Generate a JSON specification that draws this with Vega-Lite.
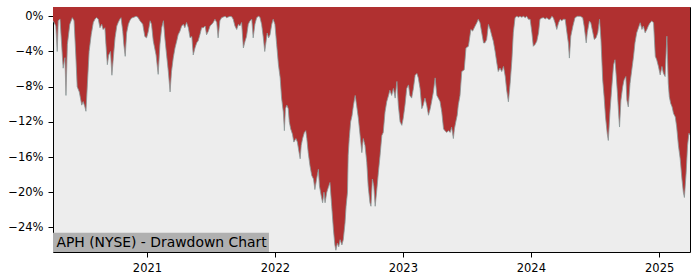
{
  "$schema": "https://vega.github.io/schema/vega-lite/v6.json",
  "width": 637,
  "height": 245,
  "autosize": {"type": "none"},
  "padding": {"left": 53, "top": 7, "right": 10, "bottom": 28},
  "background": "#ffffff",
  "config": {
    "view": {"fill": "#ededed", "stroke": "#000000", "strokeWidth": 1},
    "axis": {"grid": false, "domain": false, "tickColor": "#000000", "labelColor": "#000000", "labelFont": "DejaVu Sans", "labelFontSize": 11.5, "tickSize": 5, "labelPadding": 5, "title": null}
  },
  "datasets": {
    "dd": [
    {"date":"2020-04-08","dd":-0.5},{"date":"2020-04-11","dd":-0.7},{"date":"2020-04-16","dd":-1.1},{"date":"2020-04-20","dd":-4.0},{"date":"2020-04-23","dd":-0.5},{"date":"2020-04-28","dd":-0.3},
    {"date":"2020-05-05","dd":-4.7},{"date":"2020-05-07","dd":-5.9},{"date":"2020-05-12","dd":-4.7},{"date":"2020-05-15","dd":-9.0},{"date":"2020-05-19","dd":-3.2},{"date":"2020-05-26","dd":-0.9},
    {"date":"2020-06-02","dd":-0.15},{"date":"2020-06-07","dd":-0.5},{"date":"2020-06-12","dd":-4.4},{"date":"2020-06-16","dd":-8.0},{"date":"2020-06-22","dd":-8.6},{"date":"2020-06-29","dd":-10.1},
    {"date":"2020-07-03","dd":-9.7},{"date":"2020-07-08","dd":-10.3},{"date":"2020-07-11","dd":-10.8},{"date":"2020-07-15","dd":-7.8},{"date":"2020-07-20","dd":-4.0},{"date":"2020-07-26","dd":-2.1},
    {"date":"2020-08-01","dd":-0.7},{"date":"2020-08-06","dd":-0.3},{"date":"2020-08-10","dd":-0.15},{"date":"2020-08-15","dd":-0.3},{"date":"2020-08-20","dd":-1.3},{"date":"2020-08-25","dd":-0.9},{"date":"2020-08-29","dd":-1.5},
    {"date":"2020-09-03","dd":-1.3},{"date":"2020-09-06","dd":-3.2},{"date":"2020-09-10","dd":-5.5},{"date":"2020-09-14","dd":-4.4},{"date":"2020-09-19","dd":-4.0},{"date":"2020-09-23","dd":-6.7},{"date":"2020-09-27","dd":-4.75},
    {"date":"2020-10-02","dd":-2.45},{"date":"2020-10-07","dd":-1.1},{"date":"2020-10-11","dd":-0.7},{"date":"2020-10-16","dd":-0.3},{"date":"2020-10-19","dd":-0.15},{"date":"2020-10-24","dd":-1.7},{"date":"2020-10-27","dd":-3.2},{"date":"2020-10-31","dd":-4.55},
    {"date":"2020-11-04","dd":-1.9},{"date":"2020-11-09","dd":-0.9},{"date":"2020-11-13","dd":-0.5},{"date":"2020-11-18","dd":-0.2},{"date":"2020-11-25","dd":-0.1},
    {"date":"2020-12-01","dd":0},{"date":"2020-12-06","dd":-0.1},{"date":"2020-12-12","dd":-0.5},{"date":"2020-12-20","dd":-0.9},{"date":"2020-12-26","dd":-2.3},{"date":"2020-12-31","dd":-2.45},
    {"date":"2021-01-05","dd":-1.7},{"date":"2021-01-10","dd":-0.5},{"date":"2021-01-14","dd":-0.9},{"date":"2021-01-19","dd":-2.8},{"date":"2021-01-27","dd":-4.4},
    {"date":"2021-02-02","dd":-6.6},{"date":"2021-02-07","dd":-3.2},{"date":"2021-02-12","dd":-1.3},{"date":"2021-02-17","dd":-0.5},{"date":"2021-02-21","dd":-2.45},{"date":"2021-02-26","dd":-4.4},
    {"date":"2021-03-03","dd":-6.3},{"date":"2021-03-08","dd":-8.6},{"date":"2021-03-12","dd":-6.3},{"date":"2021-03-17","dd":-4.75},{"date":"2021-03-22","dd":-3.6},{"date":"2021-03-27","dd":-2.8},{"date":"2021-03-31","dd":-2.1},
    {"date":"2021-04-05","dd":-1.7},{"date":"2021-04-10","dd":-1.1},{"date":"2021-04-15","dd":-0.9},{"date":"2021-04-19","dd":-1.3},{"date":"2021-04-24","dd":-0.7},{"date":"2021-04-29","dd":-1.3},
    {"date":"2021-05-04","dd":-2.45},{"date":"2021-05-09","dd":-2.3},{"date":"2021-05-13","dd":-4.4},{"date":"2021-05-18","dd":-3.6},{"date":"2021-05-23","dd":-3.0},{"date":"2021-05-27","dd":-2.8},
    {"date":"2021-06-01","dd":-2.1},{"date":"2021-06-06","dd":-1.3},{"date":"2021-06-11","dd":-1.3},{"date":"2021-06-16","dd":-1.1},{"date":"2021-06-20","dd":-2.1},{"date":"2021-06-25","dd":-1.7},{"date":"2021-06-30","dd":-1.1},
    {"date":"2021-07-05","dd":-0.9},{"date":"2021-07-09","dd":-0.7},{"date":"2021-07-14","dd":-0.34},{"date":"2021-07-19","dd":-0.7},{"date":"2021-07-23","dd":-2.45},{"date":"2021-07-28","dd":-0.5},
    {"date":"2021-08-02","dd":-0.15},{"date":"2021-08-07","dd":-0.08},{"date":"2021-08-12","dd":0},{"date":"2021-08-16","dd":-0.15},{"date":"2021-08-21","dd":-0.08},{"date":"2021-08-26","dd":0},{"date":"2021-08-31","dd":-0.05},
    {"date":"2021-09-04","dd":-0.34},{"date":"2021-09-09","dd":-1.1},{"date":"2021-09-14","dd":-1.5},{"date":"2021-09-19","dd":-0.9},{"date":"2021-09-23","dd":-1.1},{"date":"2021-09-28","dd":-0.7},
    {"date":"2021-10-03","dd":-3.6},{"date":"2021-10-08","dd":-2.8},{"date":"2021-10-12","dd":-2.3},{"date":"2021-10-17","dd":-0.9},{"date":"2021-10-22","dd":-0.5},{"date":"2021-10-27","dd":-0.34},{"date":"2021-10-31","dd":-2.45},
    {"date":"2021-11-05","dd":-0.9},{"date":"2021-11-10","dd":-0.15},{"date":"2021-11-15","dd":0},{"date":"2021-11-19","dd":-0.08},{"date":"2021-11-24","dd":-0.9},{"date":"2021-11-29","dd":-2.45},
    {"date":"2021-12-03","dd":-4.0},{"date":"2021-12-07","dd":-2.8},{"date":"2021-12-10","dd":-1.9},{"date":"2021-12-14","dd":-2.45},{"date":"2021-12-18","dd":-2.1},{"date":"2021-12-23","dd":-0.9},{"date":"2021-12-27","dd":-0.34},
    {"date":"2022-01-01","dd":-0.9},{"date":"2022-01-06","dd":-3.2},{"date":"2022-01-11","dd":-5.5},{"date":"2022-01-16","dd":-7.0},{"date":"2022-01-20","dd":-9.3},{"date":"2022-01-25","dd":-10.9},{"date":"2022-01-28","dd":-13.0},{"date":"2022-01-31","dd":-10.5},
    {"date":"2022-02-04","dd":-10.1},{"date":"2022-02-08","dd":-10.5},{"date":"2022-02-11","dd":-12.0},{"date":"2022-02-15","dd":-12.8},{"date":"2022-02-20","dd":-13.4},{"date":"2022-02-24","dd":-14.3},
    {"date":"2022-03-02","dd":-13.9},{"date":"2022-03-06","dd":-14.3},{"date":"2022-03-11","dd":-15.5},{"date":"2022-03-14","dd":-16.2},{"date":"2022-03-17","dd":-14.7},{"date":"2022-03-21","dd":-13.9},{"date":"2022-03-26","dd":-13.2},{"date":"2022-03-30","dd":-13.0},
    {"date":"2022-04-02","dd":-13.9},{"date":"2022-04-06","dd":-15.5},{"date":"2022-04-11","dd":-17.0},{"date":"2022-04-16","dd":-18.1},{"date":"2022-04-21","dd":-18.5},{"date":"2022-04-25","dd":-19.7},{"date":"2022-04-30","dd":-18.5},
    {"date":"2022-05-05","dd":-17.4},{"date":"2022-05-08","dd":-19.3},{"date":"2022-05-13","dd":-20.4},{"date":"2022-05-17","dd":-21.2},{"date":"2022-05-21","dd":-20.0},{"date":"2022-05-24","dd":-21.2},{"date":"2022-05-29","dd":-20.0},
    {"date":"2022-06-02","dd":-19.5},{"date":"2022-06-07","dd":-18.9},{"date":"2022-06-12","dd":-21.6},{"date":"2022-06-17","dd":-24.3},{"date":"2022-06-21","dd":-26.0},{"date":"2022-06-24","dd":-26.6},{"date":"2022-06-28","dd":-25.8},
    {"date":"2022-07-02","dd":-26.2},{"date":"2022-07-06","dd":-25.4},{"date":"2022-07-11","dd":-26.0},{"date":"2022-07-15","dd":-25.4},{"date":"2022-07-20","dd":-23.5},{"date":"2022-07-23","dd":-21.6},{"date":"2022-07-27","dd":-20.0},{"date":"2022-07-29","dd":-15.8},
    {"date":"2022-08-01","dd":-13.9},{"date":"2022-08-05","dd":-12.0},{"date":"2022-08-09","dd":-11.3},{"date":"2022-08-13","dd":-10.1},{"date":"2022-08-18","dd":-9.0},{"date":"2022-08-22","dd":-10.1},{"date":"2022-08-27","dd":-11.6},
    {"date":"2022-09-01","dd":-13.55},{"date":"2022-09-06","dd":-15.5},{"date":"2022-09-10","dd":-13.9},{"date":"2022-09-15","dd":-14.7},{"date":"2022-09-20","dd":-16.6},{"date":"2022-09-24","dd":-19.3},{"date":"2022-09-29","dd":-21.2},
    {"date":"2022-10-02","dd":-21.6},{"date":"2022-10-06","dd":-18.5},{"date":"2022-10-10","dd":-19.3},{"date":"2022-10-14","dd":-21.6},{"date":"2022-10-18","dd":-20.0},{"date":"2022-10-23","dd":-17.8},{"date":"2022-10-28","dd":-15.8},
    {"date":"2022-11-02","dd":-13.55},{"date":"2022-11-06","dd":-13.2},{"date":"2022-11-11","dd":-10.9},{"date":"2022-11-16","dd":-9.7},{"date":"2022-11-21","dd":-9.0},{"date":"2022-11-25","dd":-8.4},{"date":"2022-11-30","dd":-9.0},
    {"date":"2022-12-05","dd":-8.2},{"date":"2022-12-10","dd":-9.3},{"date":"2022-12-15","dd":-7.4},{"date":"2022-12-19","dd":-10.1},{"date":"2022-12-24","dd":-12.0},{"date":"2022-12-29","dd":-12.4},
    {"date":"2023-01-02","dd":-11.6},{"date":"2023-01-07","dd":-10.1},{"date":"2023-01-12","dd":-8.2},{"date":"2023-01-17","dd":-7.8},{"date":"2023-01-21","dd":-9.0},{"date":"2023-01-26","dd":-9.3},{"date":"2023-01-31","dd":-8.2},
    {"date":"2023-02-05","dd":-6.7},{"date":"2023-02-10","dd":-6.5},{"date":"2023-02-14","dd":-7.0},{"date":"2023-02-19","dd":-8.2},{"date":"2023-02-24","dd":-10.5},{"date":"2023-02-28","dd":-10.1},
    {"date":"2023-03-05","dd":-9.3},{"date":"2023-03-10","dd":-10.1},{"date":"2023-03-15","dd":-11.25},{"date":"2023-03-20","dd":-10.5},{"date":"2023-03-24","dd":-9.7},{"date":"2023-03-29","dd":-8.6},
    {"date":"2023-04-03","dd":-7.0},{"date":"2023-04-08","dd":-9.0},{"date":"2023-04-12","dd":-9.3},{"date":"2023-04-17","dd":-9.7},{"date":"2023-04-22","dd":-10.9},{"date":"2023-04-27","dd":-12.8},
    {"date":"2023-05-01","dd":-13.0},{"date":"2023-05-06","dd":-13.2},{"date":"2023-05-11","dd":-13.0},{"date":"2023-05-16","dd":-13.2},{"date":"2023-05-20","dd":-12.6},{"date":"2023-05-25","dd":-13.9},{"date":"2023-05-28","dd":-12.8},
    {"date":"2023-06-01","dd":-12.0},{"date":"2023-06-05","dd":-11.25},{"date":"2023-06-08","dd":-10.1},{"date":"2023-06-13","dd":-9.0},{"date":"2023-06-18","dd":-6.28},{"date":"2023-06-25","dd":-6.08},{"date":"2023-06-30","dd":-3.6},
    {"date":"2023-07-07","dd":-3.41},{"date":"2023-07-14","dd":-1.49},{"date":"2023-07-19","dd":-1.68},{"date":"2023-07-26","dd":-1.11},{"date":"2023-07-31","dd":-0.73},
    {"date":"2023-08-04","dd":-0.34},{"date":"2023-08-09","dd":-0.73},{"date":"2023-08-14","dd":-1.88},{"date":"2023-08-19","dd":-3.02},{"date":"2023-08-23","dd":-3.02},{"date":"2023-08-28","dd":-2.64},
    {"date":"2023-09-02","dd":-0.92},{"date":"2023-09-07","dd":-1.49},{"date":"2023-09-12","dd":-2.26},{"date":"2023-09-16","dd":-2.83},{"date":"2023-09-21","dd":-3.98},{"date":"2023-09-26","dd":-5.32},{"date":"2023-09-30","dd":-6.28},
    {"date":"2023-10-05","dd":-5.89},{"date":"2023-10-10","dd":-6.28},{"date":"2023-10-15","dd":-5.7},{"date":"2023-10-20","dd":-6.85},{"date":"2023-10-24","dd":-8.38},{"date":"2023-10-29","dd":-9.72},
    {"date":"2023-11-03","dd":-7.62},{"date":"2023-11-08","dd":-4.94},{"date":"2023-11-12","dd":-1.88},{"date":"2023-11-17","dd":-0.15},{"date":"2023-11-22","dd":0},{"date":"2023-11-27","dd":-0.1},
    {"date":"2023-12-01","dd":0},{"date":"2023-12-06","dd":-0.1},{"date":"2023-12-11","dd":0},{"date":"2023-12-16","dd":-0.15},{"date":"2023-12-20","dd":0},{"date":"2023-12-25","dd":-0.34},{"date":"2023-12-30","dd":-0.34},
    {"date":"2024-01-04","dd":-1.88},{"date":"2024-01-08","dd":-3.41},{"date":"2024-01-13","dd":-3.21},{"date":"2024-01-18","dd":-2.83},{"date":"2024-01-23","dd":-1.88},{"date":"2024-01-27","dd":-0.34},
    {"date":"2024-02-01","dd":-0.2},{"date":"2024-02-06","dd":-0.15},{"date":"2024-02-11","dd":-0.3},{"date":"2024-02-16","dd":-0.15},{"date":"2024-02-20","dd":-0.34},{"date":"2024-02-25","dd":-0.34},
    {"date":"2024-03-01","dd":0},{"date":"2024-03-05","dd":-0.15},{"date":"2024-03-10","dd":-0.73},{"date":"2024-03-15","dd":-1.49},{"date":"2024-03-20","dd":-0.73},{"date":"2024-03-25","dd":-0.34},{"date":"2024-03-29","dd":-0.5},
    {"date":"2024-04-03","dd":-0.34},{"date":"2024-04-08","dd":-0.34},{"date":"2024-04-13","dd":-1.88},{"date":"2024-04-17","dd":-3.02},{"date":"2024-04-20","dd":-4.75},{"date":"2024-04-24","dd":-2.26},{"date":"2024-04-30","dd":-1.11},
    {"date":"2024-05-06","dd":-0.15},{"date":"2024-05-13","dd":0},{"date":"2024-05-21","dd":0},{"date":"2024-05-28","dd":-0.15},
    {"date":"2024-06-01","dd":-1.11},{"date":"2024-06-07","dd":-3.02},{"date":"2024-06-10","dd":-1.88},{"date":"2024-06-16","dd":-0.54},{"date":"2024-06-20","dd":-0.73},{"date":"2024-06-26","dd":-1.88},{"date":"2024-06-30","dd":-2.64},
    {"date":"2024-07-05","dd":-2.45},{"date":"2024-07-10","dd":-1.88},{"date":"2024-07-15","dd":-0.34},{"date":"2024-07-19","dd":-2.64},{"date":"2024-07-24","dd":-7.23},{"date":"2024-07-28","dd":-9.15},
    {"date":"2024-08-01","dd":-11.44},{"date":"2024-08-06","dd":-13.36},{"date":"2024-08-09","dd":-14.12},{"date":"2024-08-14","dd":-10.68},{"date":"2024-08-19","dd":-8.0},{"date":"2024-08-24","dd":-5.51},{"date":"2024-08-28","dd":-4.94},{"date":"2024-08-31","dd":-6.47},
    {"date":"2024-09-04","dd":-8.76},{"date":"2024-09-08","dd":-11.44},{"date":"2024-09-10","dd":-12.59},{"date":"2024-09-14","dd":-9.53},{"date":"2024-09-19","dd":-8.0},{"date":"2024-09-23","dd":-7.23},{"date":"2024-09-28","dd":-6.85},
    {"date":"2024-10-01","dd":-9.53},{"date":"2024-10-05","dd":-10.3},{"date":"2024-10-10","dd":-7.62},{"date":"2024-10-15","dd":-6.08},{"date":"2024-10-20","dd":-4.55},{"date":"2024-10-24","dd":-3.02},{"date":"2024-10-29","dd":-1.88},
    {"date":"2024-11-03","dd":-1.3},{"date":"2024-11-08","dd":-0.73},{"date":"2024-11-13","dd":-1.49},{"date":"2024-11-17","dd":-1.11},{"date":"2024-11-22","dd":-1.88},{"date":"2024-11-27","dd":-1.49},
    {"date":"2024-12-01","dd":-1.11},{"date":"2024-12-06","dd":-0.73},{"date":"2024-12-11","dd":-0.54},{"date":"2024-12-16","dd":-0.73},{"date":"2024-12-21","dd":-4.55},{"date":"2024-12-25","dd":-4.94},{"date":"2024-12-30","dd":-5.7},
    {"date":"2025-01-04","dd":-6.66},{"date":"2025-01-09","dd":-5.7},{"date":"2025-01-13","dd":-6.47},{"date":"2025-01-18","dd":-6.85},{"date":"2025-01-23","dd":-2.26},{"date":"2025-01-27","dd":-7.62},{"date":"2025-01-30","dd":-9.15},
    {"date":"2025-02-03","dd":-9.91},{"date":"2025-02-07","dd":-10.3},{"date":"2025-02-11","dd":-11.06},{"date":"2025-02-16","dd":-11.44},{"date":"2025-02-20","dd":-12.59},{"date":"2025-02-25","dd":-14.7},
    {"date":"2025-03-02","dd":-16.2},{"date":"2025-03-07","dd":-18.5},{"date":"2025-03-11","dd":-20.0},{"date":"2025-03-14","dd":-20.6},{"date":"2025-03-19","dd":-17.8},{"date":"2025-03-23","dd":-14.7},{"date":"2025-03-27","dd":-13.3},{"date":"2025-03-30","dd":-13.5}
    ],
    "label": [{"label": "APH (NYSE) - Drawdown Chart"}]
  },
  "layer": [
    {
      "data": {"name": "dd"},
      "mark": {"type": "area", "color": "#b03030", "interpolate": "linear", "clip": true},
      "encoding": {
        "x": {
          "field": "date", "type": "temporal",
          "scale": {"type": "utc", "nice": false, "domain": ["2020-04-08", "2025-03-30"]},
          "axis": {"format": "%Y", "tickCount": {"interval": "year", "step": 1}, "labelFlush": false, "labelOverlap": false}
        },
        "y": {
          "field": "dd", "type": "quantitative",
          "scale": {"domain": [-26.8, 1.06], "nice": false, "zero": false},
          "axis": {"values": [0, -4, -8, -12, -16, -20, -24], "labelExpr": "replace(format(datum.value, 'd'), '-', '−') + '%'"}
        },
        "y2": {"datum": 1.06}
      }
    },
    {
      "data": {"name": "dd"},
      "mark": {"type": "line", "color": "#8a9898", "strokeWidth": 1, "opacity": 0.8, "clip": true},
      "encoding": {
        "x": {"field": "date", "type": "temporal"},
        "y": {"field": "dd", "type": "quantitative"}
      }
    },
    {
      "data": {"name": "label"},
      "mark": {"type": "rect", "color": "#b0b0b0"},
      "encoding": {
        "x": {"datum": 1586304000000, "type": "temporal"},
        "x2": {"datum": 1639526400000},
        "y": {"datum": -26.8, "type": "quantitative"},
        "y2": {"datum": -24.6}
      }
    },
    {
      "data": {"name": "label"},
      "mark": {"type": "text", "align": "left", "baseline": "alphabetic", "font": "DejaVu Sans", "fontSize": 13.9, "color": "#000000", "dx": 3.4, "dy": -4.7},
      "encoding": {
        "x": {"datum": 1586304000000, "type": "temporal"},
        "y": {"datum": -26.8, "type": "quantitative"},
        "text": {"field": "label"}
      }
    }
  ]
}
